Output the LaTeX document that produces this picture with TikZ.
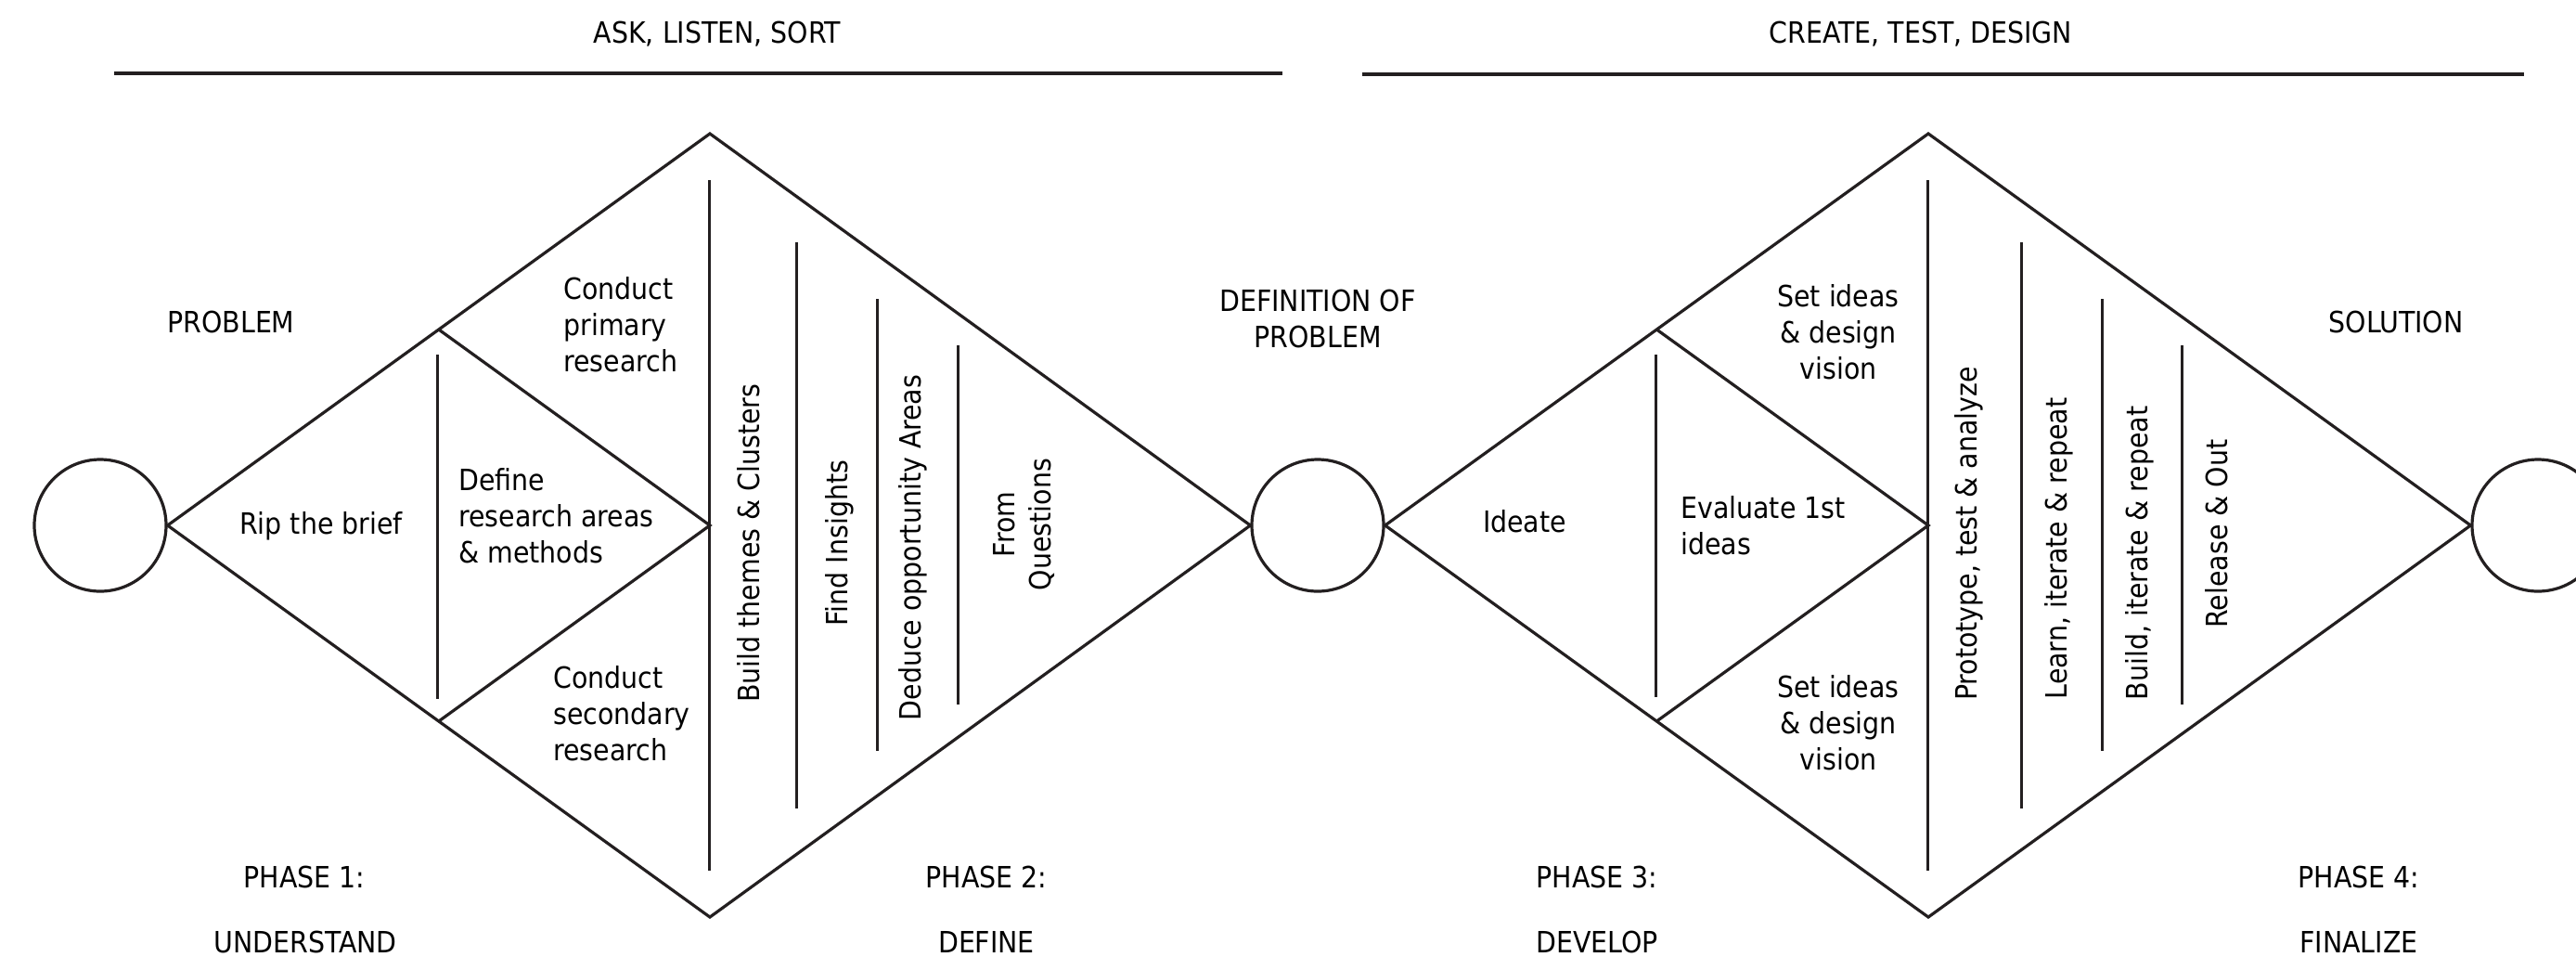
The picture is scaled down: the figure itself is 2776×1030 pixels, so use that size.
\documentclass[tikz,border=0pt]{standalone}
\usepackage{fontspec}
\setmainfont{DejaVu Sans Condensed}
\usetikzlibrary{calc}
\definecolor{inkc}{RGB}{35,31,32}
\begin{document}
\begin{tikzpicture}[x=0.5pt,y=-0.5pt,
  outline/.style={draw=inkc,line width=1.6pt,line join=miter},
  divider/.style={draw=inkc,line width=1.5pt},
  rule/.style={draw=inkc,line width=2pt},
  hub/.style={circle,draw=inkc,line width=1.6pt,minimum size=71pt,inner sep=0pt},
  lbl/.style={inner sep=0pt,font=\fontsize{15.8}{19.5}\selectfont,text=black},
  vlbl/.style={lbl,rotate=90,anchor=base}]
\clip (0,0) rectangle (2776,1030);

% header rules and titles
\coordinate (r1a) at (123,79);  \coordinate (r1b) at (1382,79);
\coordinate (r2a) at (1468,80); \coordinate (r2b) at (2720,80);
\draw[rule] (r1a) -- (r1b);
\draw[rule] (r2a) -- (r2b);
\node[lbl,anchor=base] (askT) at (773,46) {ASK, LISTEN, SORT};
\node[lbl,anchor=base] (createT) at (2070,46) {CREATE, TEST, DESIGN};

% hubs between the diamonds
\node[hub] (c1) at (108,566) {};
\node[hub] (c2) at (1420,566) {};
\node[hub] (c3) at (2735,566) {};

% first diamond
\coordinate (T1) at (765,144);
\coordinate (B1) at (765,988);
\coordinate (M1) at (765,566);
\draw[outline] (c1.east) -- (T1) -- (c2.west) -- (B1) -- cycle;
\coordinate (I1t) at ($(c1.east)!0.5!(T1)$);
\coordinate (I1b) at ($(c1.east)!0.5!(B1)$);
\draw[outline] (I1t) -- (M1) -- (I1b);
\coordinate (s1a) at (471,382); \coordinate (s1b) at (471,753);
\draw[divider] (s1a) -- (s1b);
\foreach \x/\t/\b [count=\i] in {764/194/938, 858/261/871, 945/322/809, 1032/372/759} {
  \coordinate (la\i) at (\x,\t); \coordinate (lb\i) at (\x,\b);
  \draw[divider] (la\i) -- (lb\i);
}

% second diamond
\coordinate (T2) at (2078,144);
\coordinate (B2) at (2078,988);
\coordinate (M2) at (2078,566);
\draw[outline] (c2.east) -- (T2) -- (c3.west) -- (B2) -- cycle;
\coordinate (I2t) at ($(c2.east)!0.5!(T2)$);
\coordinate (I2b) at ($(c2.east)!0.5!(B2)$);
\draw[outline] (I2t) -- (M2) -- (I2b);
\coordinate (s2a) at (1784,382); \coordinate (s2b) at (1784,751);
\draw[divider] (s2a) -- (s2b);
\foreach \x/\t/\b [count=\i] in {2077/194/938, 2178/261/871, 2265/322/809, 2351/372/759} {
  \coordinate (ra\i) at (\x,\t); \coordinate (rb\i) at (\x,\b);
  \draw[divider] (ra\i) -- (rb\i);
}

% milestone labels
\node[lbl,anchor=base] (problemT) at (249,358) {PROBLEM};
\node[lbl,anchor=north,align=center] (defT) at (1420,312) {DEFINITION OF\\PROBLEM};
\node[lbl,anchor=base] (solT) at (2582,358) {SOLUTION};

% phase 1 and 2 steps
\node[lbl,anchor=base] (ripT) at (346,575) {Rip the brief};
\node[lbl,anchor=north west,align=left] (defineT) at (494,504) {Define\\research areas\\\& methods};
\node[lbl,anchor=north west,align=left] (primT) at (607,298) {Conduct\\primary\\research};
\node[lbl,anchor=north west,align=left] (secT) at (596,717) {Conduct\\secondary\\research};
\node[vlbl] (clusterT) at (818,585) {Build themes \& Clusters};
\node[vlbl] (insightT) at (913,585) {Find Insights};
\node[vlbl] (deduceT) at (992,590) {Deduce opportunity Areas};
\node[lbl,rotate=90,align=center] (fromT) at (1103,565) {From\\Questions};

% phase 3 and 4 steps
\node[lbl,anchor=base] (ideateT) at (1643,573) {Ideate};
\node[lbl,anchor=north west,align=left] (evalT) at (1811,534) {Evaluate 1st\\ideas};
\node[lbl,anchor=north,align=center] (setUT) at (1981,306) {Set ideas\\\& design\\vision};
\node[lbl,anchor=north,align=center] (setLT) at (1981,727) {Set ideas\\\& design\\vision};
\node[vlbl] (protoT) at (2130,575) {Prototype, test \& analyze};
\node[vlbl] (learnT) at (2227,591) {Learn, iterate \& repeat};
\node[vlbl] (buildT) at (2314,596) {Build, iterate \& repeat};
\node[vlbl] (releaseT) at (2400,575) {Release \& Out};

% phase captions
\node[lbl,anchor=base] (p1a) at (328,956) {PHASE 1:};
\node[lbl,anchor=base] (p1b) at (329,1026) {UNDERSTAND};
\node[lbl,anchor=base] (p2a) at (1063,956) {PHASE 2:};
\node[lbl,anchor=base] (p2b) at (1063,1026) {DEFINE};
\node[lbl,anchor=base] (p3a) at (1721,956) {PHASE 3:};
\node[lbl,anchor=base] (p3b) at (1721,1026) {DEVELOP};
\node[lbl,anchor=base] (p4a) at (2542,956) {PHASE 4:};
\node[lbl,anchor=base] (p4b) at (2542,1026) {FINALIZE};
\end{tikzpicture}
\end{document}
